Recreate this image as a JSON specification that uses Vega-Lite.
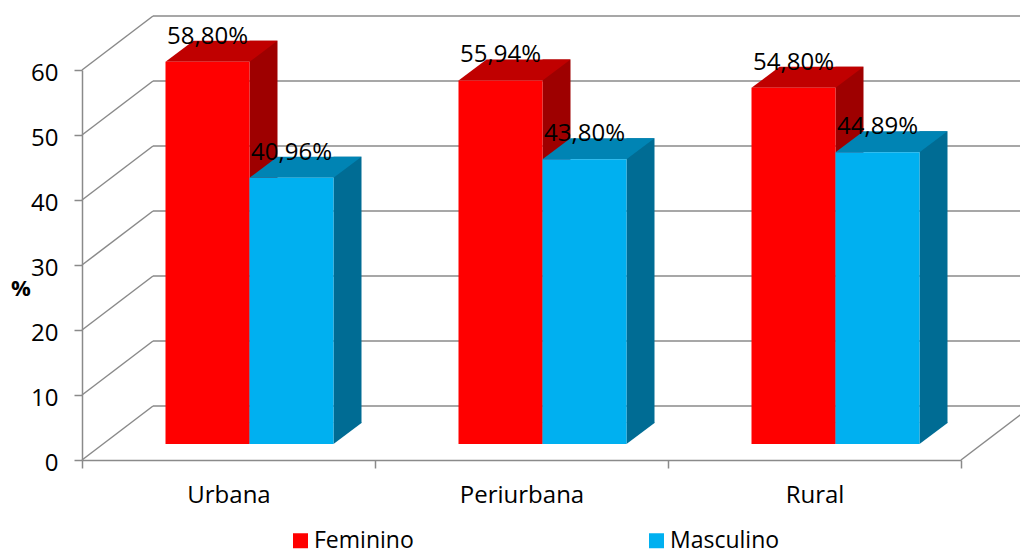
{
  "$schema": "https://vega.github.io/schema/vega-lite/v6.json",
  "width": 879,
  "height": 390,
  "autosize": {"type": "none"},
  "padding": {"left": 82, "top": 70, "right": 59, "bottom": 94},
  "config": {
    "view": {"stroke": null},
    "font": "Open Sans",
    "locale": {"number": {"decimal": ",", "thousands": ".", "grouping": [3], "currency": ["", "%"]}}
  },
  "datasets": {
    "bars": [
      {"region": "Urbana", "gender": "Feminino", "value": 58.80},
      {"region": "Urbana", "gender": "Masculino", "value": 40.96},
      {"region": "Periurbana", "gender": "Feminino", "value": 55.94},
      {"region": "Periurbana", "gender": "Masculino", "value": 43.80},
      {"region": "Rural", "gender": "Feminino", "value": 54.80},
      {"region": "Rural", "gender": "Masculino", "value": 44.89}
    ],
    "ticks": [{"tick": 0}, {"tick": 10}, {"tick": 20}, {"tick": 30}, {"tick": 40}, {"tick": 50}, {"tick": 60}]
  },
  "layer": [
    {
      "data": {"name": "ticks"},
      "mark": {"type": "rule", "color": "#8a8a8a", "strokeWidth": 1.5, "xOffset": 71, "x2Offset": 142, "yOffset": -54},
      "encoding": {
        "x": {"datum": "Urbana", "bandPosition": 0, "type": "nominal", "scale": {"type": "band", "domain": ["Urbana", "Periurbana", "Rural"], "paddingInner": 0, "paddingOuter": 0}},
        "x2": {"datum": "Rural", "bandPosition": 1},
        "y": {"field": "tick", "type": "quantitative", "scale": {"domain": [0, 60]}}
      }
    },
    {
      "data": {"name": "ticks"},
      "mark": {"type": "rule", "color": "#8a8a8a", "strokeWidth": 1.5, "x2Offset": 71, "y2Offset": -54},
      "encoding": {
        "x": {"datum": "Urbana", "bandPosition": 0, "type": "nominal", "scale": {"type": "band"}},
        "x2": {"datum": "Urbana", "bandPosition": 0},
        "y": {"field": "tick", "type": "quantitative"},
        "y2": {"field": "tick"}
      }
    },
    {
      "data": {"name": "ticks"},
      "transform": [{"filter": "datum.tick == 0"}],
      "mark": {"type": "rule", "color": "#8a8a8a", "strokeWidth": 1.5, "x2Offset": 71, "y2Offset": -54},
      "encoding": {
        "x": {"datum": "Rural", "bandPosition": 1, "type": "nominal", "scale": {"type": "band"}},
        "x2": {"datum": "Rural", "bandPosition": 1},
        "y": {"field": "tick", "type": "quantitative"},
        "y2": {"field": "tick"}
      }
    },
    {
      "data": {"name": "bars"},
      "transform": [{"filter": "datum.gender == 'Feminino'"}],
      "mark": {"type": "bar", "width": 28, "xOffset": 35, "yOffset": -37, "y2Offset": -37, "color": "#9e0000"},
      "encoding": {
        "x": {"field": "region", "type": "nominal", "scale": {"type": "band"}, "sort": null},
        "y": {"field": "value", "type": "quantitative"},
        "y2": {"datum": 0}
      }
    },
    {
      "data": {"name": "bars"},
      "transform": [{"filter": "datum.gender == 'Feminino'"}],
      "mark": {"type": "point", "shape": "M0,0 L0,-21.5 L28,-21.5 L28,-21 Z", "size": 4, "filled": true, "opacity": 1, "strokeWidth": 0, "color": "#9e0000", "xOffset": 21, "yOffset": -16},
      "encoding": {
        "x": {"field": "region", "type": "nominal", "scale": {"type": "band"}, "sort": null},
        "y": {"datum": 0, "type": "quantitative"}
      }
    },
    {
      "data": {"name": "bars"},
      "transform": [{"filter": "datum.gender == 'Feminino'"}],
      "mark": {"type": "point", "shape": "M0,0 L84,0 L112,-21 L28,-21 Z", "size": 4, "filled": true, "opacity": 1, "strokeWidth": 0, "color": "#c00000", "xOffset": -63, "yOffset": -16},
      "encoding": {
        "x": {"field": "region", "type": "nominal", "scale": {"type": "band"}, "sort": null},
        "y": {"field": "value", "type": "quantitative"}
      }
    },
    {
      "data": {"name": "bars"},
      "transform": [{"filter": "datum.gender == 'Feminino'"}],
      "mark": {"type": "bar", "width": 84, "xOffset": -21, "yOffset": -16, "y2Offset": -16},
      "encoding": {
        "x": {"field": "region", "type": "nominal", "sort": null, "scale": {"type": "band"},
          "axis": {"title": null, "tickBand": "extent", "domainColor": "#8a8a8a", "domainWidth": 1.5, "tickColor": "#8a8a8a", "tickWidth": 1.5, "tickSize": 8, "labelFont": "Open Sans", "labelFontSize": 24, "labelColor": "#000000", "labelPadding": 15, "labelAngle": 0, "labelAlign": "center", "labelBaseline": "top", "grid": false}},
        "y": {"field": "value", "type": "quantitative",
          "axis": {"title": "%", "values": [0, 10, 20, 30, 40, 50, 60], "domainColor": "#8a8a8a", "domainWidth": 1.5, "tickColor": "#8a8a8a", "tickWidth": 1.5, "tickSize": 8, "labelFont": "Open Sans", "labelFontSize": 24, "labelColor": "#000000", "labelPadding": 16, "labelOffset": 3, "grid": false, "titleAngle": 0, "titleFont": "Open Sans", "titleFontSize": 22, "titleFontWeight": "bold", "titleColor": "#000000", "titleX": -61.5, "titleY": 218.7, "titleAlign": "center", "titleBaseline": "middle"}},
        "y2": {"datum": 0},
        "color": {"field": "gender", "type": "nominal",
          "scale": {"domain": ["Feminino", "Masculino"], "range": ["#ff0000", "#00b0f0"]},
          "legend": {"title": null, "orient": "none", "direction": "horizontal", "legendX": 207, "legendY": 459, "symbolType": "square", "symbolSize": 225, "symbolStrokeWidth": 0, "labelFont": "Open Sans", "labelFontSize": 23, "labelColor": "#000000", "labelOffset": 2, "columnPadding": 231, "padding": 0}}
      }
    },
    {
      "data": {"name": "bars"},
      "transform": [{"filter": "datum.gender == 'Masculino'"}],
      "mark": {"type": "bar", "width": 28, "xOffset": 119, "yOffset": -37, "y2Offset": -37, "color": "#006c94"},
      "encoding": {
        "x": {"field": "region", "type": "nominal", "scale": {"type": "band"}, "sort": null},
        "y": {"field": "value", "type": "quantitative"},
        "y2": {"datum": 0}
      }
    },
    {
      "data": {"name": "bars"},
      "transform": [{"filter": "datum.gender == 'Masculino'"}],
      "mark": {"type": "point", "shape": "M0,0 L0,-21.5 L28,-21.5 L28,-21 Z", "size": 4, "filled": true, "opacity": 1, "strokeWidth": 0, "color": "#006c94", "xOffset": 105, "yOffset": -16},
      "encoding": {
        "x": {"field": "region", "type": "nominal", "scale": {"type": "band"}, "sort": null},
        "y": {"datum": 0, "type": "quantitative"}
      }
    },
    {
      "data": {"name": "bars"},
      "transform": [{"filter": "datum.gender == 'Masculino'"}],
      "mark": {"type": "point", "shape": "M0,0 L84,0 L112,-21 L28,-21 Z", "size": 4, "filled": true, "opacity": 1, "strokeWidth": 0, "color": "#0084b4", "xOffset": 21, "yOffset": -16},
      "encoding": {
        "x": {"field": "region", "type": "nominal", "scale": {"type": "band"}, "sort": null},
        "y": {"field": "value", "type": "quantitative"}
      }
    },
    {
      "data": {"name": "bars"},
      "transform": [{"filter": "datum.gender == 'Masculino'"}],
      "mark": {"type": "bar", "width": 84, "xOffset": 63, "yOffset": -16, "y2Offset": -16},
      "encoding": {
        "x": {"field": "region", "type": "nominal", "scale": {"type": "band"}, "sort": null},
        "y": {"field": "value", "type": "quantitative"},
        "y2": {"datum": 0},
        "color": {"field": "gender", "type": "nominal"}
      }
    },
    {
      "data": {"name": "bars"},
      "transform": [{"filter": "datum.gender == 'Feminino'"}],
      "mark": {"type": "text", "font": "Open Sans", "fontSize": 24, "color": "#000000", "align": "center", "baseline": "alphabetic", "xOffset": -21, "yOffset": -34},
      "encoding": {
        "x": {"field": "region", "type": "nominal", "scale": {"type": "band"}, "sort": null},
        "y": {"field": "value", "type": "quantitative"},
        "text": {"field": "value", "type": "quantitative", "format": "$.2f"}
      }
    },
    {
      "data": {"name": "bars"},
      "transform": [{"filter": "datum.gender == 'Masculino'"}],
      "mark": {"type": "text", "font": "Open Sans", "fontSize": 24, "color": "#000000", "align": "center", "baseline": "alphabetic", "xOffset": 63, "yOffset": -34},
      "encoding": {
        "x": {"field": "region", "type": "nominal", "scale": {"type": "band"}, "sort": null},
        "y": {"field": "value", "type": "quantitative"},
        "text": {"field": "value", "type": "quantitative", "format": "$.2f"}
      }
    }
  ]
}
